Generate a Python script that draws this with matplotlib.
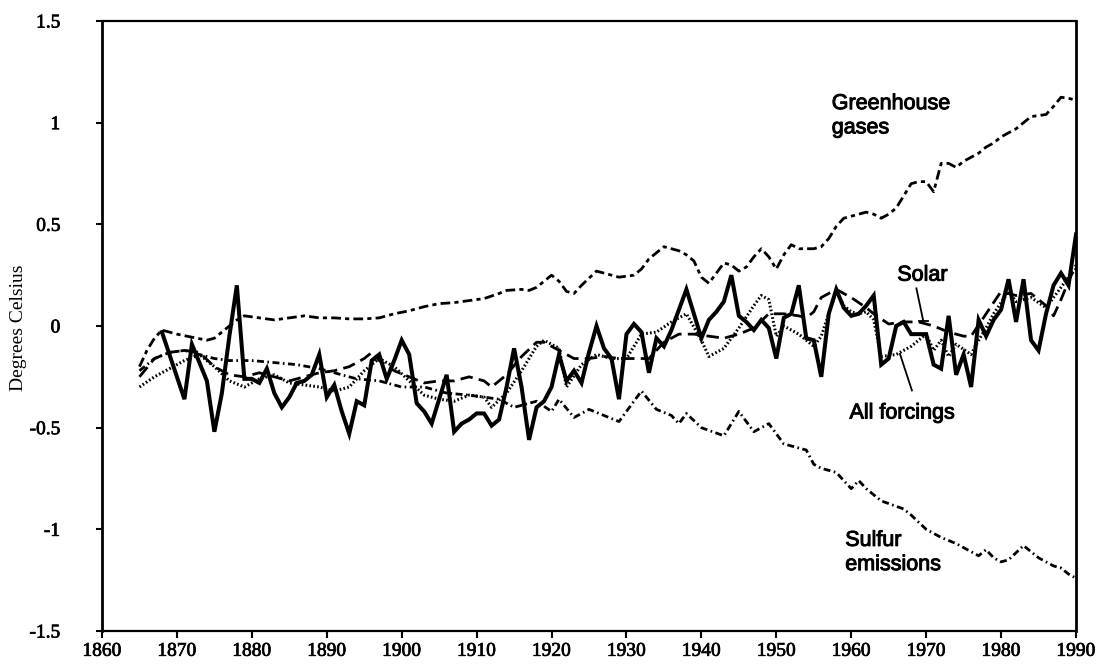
import numpy as np
import matplotlib
matplotlib.use("Agg")
import matplotlib.pyplot as plt
import matplotlib.patheffects as pe
from matplotlib.ticker import FixedLocator, FixedFormatter

plt.rcParams['lines.scale_dashes'] = False

# ---------------- data ----------------
obs_years = np.arange(1868, 1991)
observed = [
    -0.03, -0.14,
    -0.25, -0.36, -0.09, -0.18, -0.27, -0.52, -0.33, -0.05, 0.20, -0.26,
    -0.26, -0.28, -0.21, -0.33, -0.40, -0.35, -0.28, -0.27, -0.24, -0.14,
    -0.35, -0.29, -0.42, -0.53, -0.37, -0.39, -0.17, -0.14, -0.26, -0.17,
    -0.07, -0.14, -0.38, -0.42, -0.48, -0.36, -0.24, -0.52, -0.48, -0.46,
    -0.43, -0.43, -0.49, -0.46, -0.30, -0.11, -0.30, -0.56, -0.40, -0.37,
    -0.30, -0.14, -0.27, -0.22, -0.28, -0.13, 0.00, -0.11, -0.16, -0.36,
    -0.04, 0.01, -0.03, -0.23, -0.06, -0.10, -0.02, 0.08, 0.18, 0.06,
    -0.06, 0.03, 0.07, 0.12, 0.25, 0.05, 0.02, -0.02, 0.03, -0.01,
    -0.16, 0.04, 0.06, 0.20, -0.06, -0.07, -0.25, 0.06, 0.18, 0.09,
    0.05, 0.06, 0.10, 0.15, -0.19, -0.16, 0.00, 0.02, -0.04, -0.04,
    -0.04, -0.19, -0.21, 0.05, -0.24, -0.14, -0.30, 0.03, -0.05, 0.03,
    0.08, 0.23, 0.02, 0.23, -0.07, -0.12, 0.06, 0.20, 0.26, 0.20,
    0.45,
]

greenhouse = [
    (1865, -0.20), (1866, -0.12), (1867, -0.06), (1868, -0.02), (1870, -0.04),
    (1872, -0.055), (1874, -0.07), (1875, -0.06), (1877, 0.00), (1878, 0.03),
    (1879, 0.05), (1881, 0.04), (1883, 0.03), (1885, 0.04), (1887, 0.05),
    (1889, 0.04), (1891, 0.04), (1893, 0.035), (1895, 0.035), (1897, 0.04),
    (1899, 0.06), (1901, 0.075), (1903, 0.095), (1905, 0.11), (1907, 0.115),
    (1909, 0.125), (1911, 0.135), (1913, 0.16), (1914, 0.175), (1916, 0.18),
    (1917, 0.175), (1918, 0.19), (1920, 0.25), (1921, 0.22), (1922, 0.17),
    (1923, 0.16), (1924, 0.20), (1926, 0.27), (1928, 0.25), (1929, 0.24),
    (1931, 0.25), (1932, 0.28), (1933, 0.33), (1935, 0.39), (1937, 0.37),
    (1938, 0.35), (1939, 0.32), (1940, 0.24), (1941, 0.21), (1942, 0.26),
    (1943, 0.31), (1944, 0.30), (1945, 0.27), (1946, 0.29), (1947, 0.34),
    (1948, 0.38), (1949, 0.34), (1950, 0.28), (1951, 0.35), (1952, 0.40),
    (1953, 0.38), (1955, 0.38), (1956, 0.39), (1957, 0.43), (1958, 0.49),
    (1959, 0.53), (1960, 0.54), (1961, 0.55), (1962, 0.56), (1963, 0.55),
    (1964, 0.53), (1965, 0.55), (1966, 0.58), (1967, 0.64), (1968, 0.70),
    (1969, 0.71), (1970, 0.71), (1971, 0.66), (1972, 0.80), (1973, 0.80),
    (1974, 0.78), (1975, 0.81), (1976, 0.83), (1977, 0.85), (1978, 0.88),
    (1979, 0.90), (1980, 0.93), (1981, 0.95), (1982, 0.97), (1983, 1.00),
    (1984, 1.03), (1985, 1.035), (1986, 1.04), (1987, 1.08), (1988, 1.125),
    (1989, 1.12), (1990, 1.11),
]

sulfur = [
    (1865, -0.22), (1867, -0.16), (1869, -0.13), (1871, -0.12), (1873, -0.14),
    (1875, -0.16), (1877, -0.17), (1880, -0.17), (1883, -0.18), (1886, -0.19),
    (1889, -0.21), (1891, -0.23), (1894, -0.26), (1897, -0.27), (1900, -0.30),
    (1903, -0.30), (1906, -0.33), (1909, -0.34), (1911, -0.35), (1913, -0.36),
    (1915, -0.40), (1917, -0.38), (1918, -0.37), (1920, -0.42), (1921, -0.36),
    (1923, -0.45), (1925, -0.41), (1927, -0.44), (1929, -0.47), (1932, -0.32),
    (1934, -0.41), (1936, -0.44), (1937, -0.48), (1938, -0.43), (1940, -0.50),
    (1943, -0.54), (1945, -0.42), (1947, -0.52), (1949, -0.48), (1951, -0.58),
    (1953, -0.60), (1954, -0.61), (1955, -0.68), (1956, -0.70), (1958, -0.72),
    (1960, -0.80), (1961, -0.76), (1962, -0.80), (1964, -0.86), (1967, -0.90),
    (1968, -0.93), (1970, -1.00), (1971, -1.02), (1972, -1.04), (1974, -1.07),
    (1976, -1.11), (1977, -1.13), (1978, -1.10), (1979, -1.14), (1980, -1.16),
    (1981, -1.15), (1983, -1.08), (1984, -1.11), (1985, -1.14), (1987, -1.18),
    (1988, -1.19), (1989, -1.22), (1990, -1.24),
]

solar = [
    (1865, -0.25), (1867, -0.16), (1869, -0.13), (1871, -0.12), (1873, -0.13),
    (1875, -0.20), (1877, -0.24), (1879, -0.25), (1881, -0.23), (1883, -0.25),
    (1885, -0.27), (1887, -0.25), (1889, -0.23), (1891, -0.22), (1893, -0.20),
    (1895, -0.16), (1896, -0.13), (1897, -0.17), (1899, -0.22), (1901, -0.25),
    (1903, -0.28), (1905, -0.27), (1907, -0.27), (1909, -0.25), (1911, -0.27),
    (1912, -0.30), (1914, -0.24), (1916, -0.15), (1918, -0.08), (1919, -0.08),
    (1921, -0.12), (1923, -0.16), (1925, -0.16), (1927, -0.15), (1929, -0.16),
    (1931, -0.16), (1933, -0.16), (1935, -0.08), (1937, -0.04), (1939, -0.04),
    (1941, -0.05), (1943, -0.06), (1945, -0.04), (1947, -0.01), (1949, 0.06),
    (1951, 0.06), (1953, 0.05), (1954, 0.04), (1955, 0.07), (1956, 0.14),
    (1958, 0.18), (1960, 0.14), (1962, 0.09), (1963, 0.06), (1965, 0.01),
    (1967, 0.02), (1969, 0.02), (1971, 0.00), (1973, -0.03), (1975, -0.05),
    (1976, -0.05), (1978, 0.06), (1980, 0.17), (1982, 0.15), (1984, 0.16),
    (1986, 0.10), (1987, 0.05), (1988, 0.13), (1989, 0.22), (1990, 0.30),
]

all_forcings = [
    (1865, -0.30), (1867, -0.25), (1869, -0.21), (1871, -0.17), (1873, -0.14),
    (1875, -0.20), (1877, -0.27), (1879, -0.30), (1881, -0.26), (1883, -0.24),
    (1885, -0.28), (1887, -0.29), (1889, -0.30), (1891, -0.32), (1893, -0.30),
    (1895, -0.22), (1897, -0.16), (1899, -0.20), (1901, -0.27), (1903, -0.34),
    (1905, -0.36), (1907, -0.37), (1909, -0.34), (1911, -0.35), (1912, -0.40),
    (1914, -0.33), (1916, -0.22), (1918, -0.10), (1919, -0.07), (1921, -0.11),
    (1922, -0.30), (1924, -0.19), (1926, -0.14), (1928, -0.16), (1930, -0.16),
    (1932, -0.04), (1934, -0.03), (1936, 0.02), (1938, 0.06), (1940, -0.07),
    (1941, -0.15), (1943, -0.11), (1945, -0.01), (1947, 0.10), (1948, 0.15),
    (1949, 0.13), (1950, -0.05), (1951, 0.00), (1953, -0.04), (1955, -0.10),
    (1956, -0.05), (1957, 0.06), (1958, 0.17), (1959, 0.10), (1960, 0.07),
    (1961, 0.06), (1962, 0.07), (1963, 0.03), (1964, -0.15), (1966, -0.14),
    (1968, -0.10), (1970, -0.04), (1971, -0.12), (1972, -0.07), (1973, -0.15),
    (1974, -0.09), (1976, -0.14), (1977, -0.07), (1978, -0.01), (1979, 0.06),
    (1981, 0.17), (1982, 0.12), (1984, 0.14), (1986, 0.09), (1988, 0.19),
    (1989, 0.24), (1990, 0.28),
]

x_ticks = [1860, 1870, 1880, 1890, 1900, 1910, 1920, 1930, 1940, 1950, 1960, 1970, 1980, 1990]
y_ticks = [-1.5, -1, -0.5, 0, 0.5, 1, 1.5]
y_tick_labels = ["-1.5", "-1", "-0.5", "0", "0.5", "1", "1.5"]

# ---------------- figure ----------------
fig = plt.figure(figsize=(11.01, 6.64), dpi=100)
ax = fig.add_axes([102 / 1101, 1 - 631 / 664, (1076 - 102) / 1101, (631 - 21) / 664])

def unzip(pairs):
    a = np.array(pairs, dtype=float)
    return a[:, 0], a[:, 1]

k = 'black'
gx, gy = unzip(greenhouse)
ax.plot(gx, gy, color=k, lw=2.0, linestyle=(0, (7, 3, 3, 3)))
sx, sy = unzip(sulfur)
ax.plot(sx, sy, color=k, lw=2.0, linestyle=(0, (5, 2.5, 1.2, 2.5)))
ox, oy = unzip(solar)
ax.plot(ox, oy, color=k, lw=2.0, linestyle=(0, (9, 4.5)))
fx, fy = unzip(all_forcings)
ax.plot(fx, fy, color=k, lw=2.2, linestyle=(0, (1.2, 1.6)))
ax.plot(obs_years, observed, color=k, lw=2.9, solid_joinstyle='miter')

ax.set_xlim(1860, 1990)
ax.set_ylim(-1.5, 1.5)

ax.xaxis.set_major_locator(FixedLocator(x_ticks))
ax.yaxis.set_major_locator(FixedLocator(y_ticks))
ax.yaxis.set_major_formatter(FixedFormatter(y_tick_labels))

serif = 'Liberation Serif'
thin_stroke = [pe.withStroke(linewidth=0.5, foreground='black')]
ax.tick_params(axis='x', direction='out', length=5, width=1.5, pad=3.5, labelsize=14)
ax.tick_params(axis='y', direction='out', length=4, width=1.5, pad=26, labelsize=14)
for lab in ax.get_xticklabels() + ax.get_yticklabels():
    lab.set_fontfamily(serif)
    lab.set_path_effects(thin_stroke)

for side in ['left', 'right']:
    ax.spines[side].set_linewidth(2.0)
for side in ['top', 'bottom']:
    ax.spines[side].set_linewidth(1.6)

fig.text(0.0165, 0.507, "Degrees Celsius", rotation=90, ha='center', va='center',
         fontfamily=serif, fontsize=14)

sans = 'Liberation Sans'
lab_kw = dict(fontfamily=sans, fontsize=15.5, color='black',
              path_effects=[pe.withStroke(linewidth=0.7, foreground='black')])
ax.text(1957.4, 1.034, "Greenhouse\ngases", ha='left', va='center', linespacing=1.2, **lab_kw)
ax.text(1969.5, 0.25, "Solar", ha='center', va='center', **lab_kw)
ax.text(1966.8, -0.428, "All forcings", ha='center', va='center', **lab_kw)
ax.text(1959.2, -1.114, "Sulfur\nemissions", ha='left', va='center', linespacing=1.2, **lab_kw)

# leader lines
ax.plot([1968.7, 1969.6], [0.185, 0.027], color=k, lw=1.3)
ax.plot([1969.0, 1970.3], [0.024, 0.024], color=k, lw=1.3)
ax.plot([1966.5, 1968.1], [-0.137, -0.317], color=k, lw=1.3)

fig.savefig("out.png", dpi=100)
